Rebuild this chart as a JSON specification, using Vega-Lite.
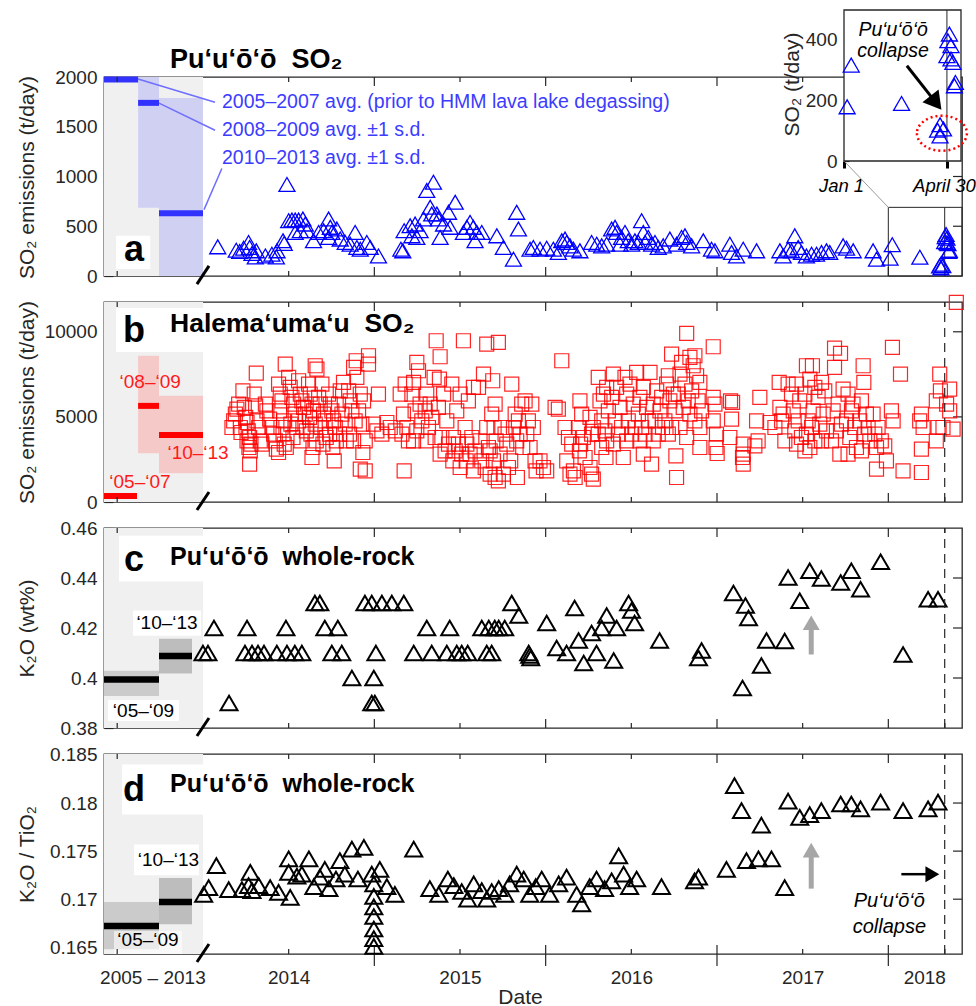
{
  "$schema": "https://vega.github.io/schema/vega-lite/v6.json",
  "padding": {"left": 15, "top": 8, "right": 16, "bottom": 0},
  "background": "white",
  "config": {
    "font": "Liberation Sans",
    "view": {"stroke": "#262626", "strokeWidth": 1.3},
    "text": {"font": "Liberation Sans"},
    "axis": {
      "domain": false, "grid": false, "zindex": 1,
      "labelFlush": false, "labelOverlap": false,
      "labelFont": "Liberation Sans", "labelFontSize": 19, "labelColor": "#262626",
      "tickColor": "#262626", "tickWidth": 1.2,
      "titleFont": "Liberation Sans", "titleFontSize": 21, "titleFontWeight": "normal", "titleColor": "#262626"
    }
  },
  "datasets": {
    "so2a": [
      {"t":2014.086,"v":293},{"t":2014.490,"v":920},{"t":2014.194,"v":260},{"t":2014.214,"v":246},{"t":2014.237,"v":280},{"t":2014.266,"v":337},{"t":2014.272,"v":287},{"t":2014.286,"v":226},{"t":2014.305,"v":192},{"t":2014.311,"v":253},{"t":2014.364,"v":202},{"t":2014.402,"v":219},{"t":2014.428,"v":192},{"t":2014.432,"v":253},{"t":2014.467,"v":354},{"t":2014.474,"v":327},
      {"t":2014.500,"v":556},{"t":2014.519,"v":563},{"t":2014.538,"v":563},{"t":2014.558,"v":563},{"t":2014.583,"v":573},{"t":2014.597,"v":522},{"t":2014.538,"v":438},{"t":2014.568,"v":455},{"t":2014.607,"v":455},{"t":2014.645,"v":354},{"t":2014.675,"v":438},{"t":2014.704,"v":455},{"t":2014.733,"v":573},{"t":2014.743,"v":489},{"t":2014.733,"v":388},{"t":2014.752,"v":438},{"t":2014.781,"v":472},{"t":2014.801,"v":371},{"t":2014.830,"v":337},{"t":2014.859,"v":320},{"t":2014.888,"v":438},{"t":2014.898,"v":287},{"t":2014.918,"v":270},{"t":2014.956,"v":337},{"t":2014.976,"v":287},{"t":2015.024,"v":202},
      {"t":2015.155,"v":270},{"t":2015.166,"v":253},{"t":2015.174,"v":455},{"t":2015.209,"v":505},{"t":2015.219,"v":404},{"t":2015.238,"v":522},{"t":2015.248,"v":388},{"t":2015.267,"v":455},{"t":2015.287,"v":573},{"t":2015.306,"v":859},{"t":2015.345,"v":943},{"t":2015.326,"v":691},{"t":2015.335,"v":623},{"t":2015.365,"v":623},{"t":2015.374,"v":573},{"t":2015.384,"v":388},{"t":2015.404,"v":522},{"t":2015.433,"v":640},{"t":2015.442,"v":489},{"t":2015.472,"v":741},
      {"t":2015.520,"v":438},{"t":2015.540,"v":489},{"t":2015.559,"v":539},{"t":2015.578,"v":489},{"t":2015.588,"v":354},{"t":2015.598,"v":438},{"t":2015.627,"v":438},{"t":2015.715,"v":404},{"t":2015.753,"v":287},{"t":2015.812,"v":169},{"t":2015.831,"v":640},{"t":2015.841,"v":472},
      {"t":2015.909,"v":270},{"t":2015.928,"v":287},{"t":2015.967,"v":270},{"t":2016.006,"v":280},{"t":2016.045,"v":270},{"t":2016.074,"v":236},{"t":2016.094,"v":354},{"t":2016.113,"v":371},{"t":2016.123,"v":337},{"t":2016.142,"v":303},{"t":2016.162,"v":270},
      {"t":2016.200,"v":253},{"t":2016.268,"v":337},{"t":2016.298,"v":320},{"t":2016.327,"v":303},{"t":2016.356,"v":320},{"t":2016.385,"v":472},{"t":2016.405,"v":489},{"t":2016.414,"v":438},{"t":2016.434,"v":320},{"t":2016.443,"v":388},{"t":2016.463,"v":438},{"t":2016.482,"v":354},{"t":2016.502,"v":320},{"t":2016.521,"v":354},{"t":2016.541,"v":337},{"t":2016.560,"v":556},{"t":2016.570,"v":438},{"t":2016.580,"v":337},{"t":2016.599,"v":388},{"t":2016.618,"v":320},{"t":2016.638,"v":337},{"t":2016.657,"v":287},{"t":2016.686,"v":303},{"t":2016.725,"v":371},{"t":2016.764,"v":320},{"t":2016.793,"v":388},{"t":2016.813,"v":404},{"t":2016.823,"v":337},{"t":2016.852,"v":303},{"t":2016.920,"v":354},{"t":2016.968,"v":270},{"t":2016.988,"v":253},
      {"t":2017.075,"v":320},{"t":2017.085,"v":236},{"t":2017.114,"v":202},{"t":2017.153,"v":270},{"t":2017.231,"v":253},{"t":2017.367,"v":253},{"t":2017.386,"v":202},{"t":2017.415,"v":270},{"t":2017.435,"v":253},{"t":2017.454,"v":404},{"t":2017.474,"v":287},{"t":2017.493,"v":236},{"t":2017.522,"v":202},{"t":2017.552,"v":219},{"t":2017.581,"v":219},{"t":2017.610,"v":236},{"t":2017.639,"v":253},{"t":2017.658,"v":236},{"t":2017.736,"v":303},{"t":2017.756,"v":280},{"t":2017.795,"v":253},{"t":2017.911,"v":253},{"t":2017.931,"v":169},
      {"t":2018.010,"v":178},{"t":2018.023,"v":315},{"t":2018.184,"v":189},{"t":2018.299,"v":101},{"t":2018.307,"v":119},{"t":2018.307,"v":82},{"t":2018.318,"v":105},{"t":2018.329,"v":346},{"t":2018.332,"v":395},{"t":2018.337,"v":417},{"t":2018.342,"v":379},{"t":2018.342,"v":335},{"t":2018.348,"v":324},{"t":2018.353,"v":247},{"t":2018.356,"v":258}
    ],
    "so2b": [
      {"t":2014.169,"v":4378},{"t":2014.179,"v":4770},{"t":2014.189,"v":5162},{"t":2014.198,"v":5456},{"t":2014.208,"v":5750},{"t":2014.218,"v":4378},{"t":2014.222,"v":4084},
      {"t":2014.233,"v":6534},{"t":2014.241,"v":5554},{"t":2014.249,"v":4966},{"t":2014.257,"v":4672},{"t":2014.264,"v":4182},{"t":2014.272,"v":3790},{"t":2014.257,"v":3594},{"t":2014.280,"v":3398},{"t":2014.268,"v":3202},{"t":2014.276,"v":3006},{"t":2014.272,"v":2222},
      {"t":2014.311,"v":7573},{"t":2014.299,"v":6338},{"t":2014.307,"v":5652},{"t":2014.315,"v":4770},{"t":2014.325,"v":4378},{"t":2014.334,"v":3594},{"t":2014.344,"v":3398},
      {"t":2014.364,"v":5750},{"t":2014.373,"v":5358},{"t":2014.389,"v":4868},{"t":2014.402,"v":4378},{"t":2014.412,"v":3986},{"t":2014.422,"v":3594},{"t":2014.428,"v":3104},
      {"t":2014.480,"v":8102},{"t":2014.441,"v":6926},{"t":2014.451,"v":6338},{"t":2014.461,"v":5946},{"t":2014.447,"v":5358},{"t":2014.470,"v":4770},{"t":2014.455,"v":4378},{"t":2014.467,"v":3986},{"t":2014.474,"v":3398},{"t":2014.486,"v":3202},{"t":2014.441,"v":2908},
      {"t":2014.500,"v":7318},{"t":2014.509,"v":6730},{"t":2014.519,"v":6142},{"t":2014.529,"v":5750},{"t":2014.538,"v":5162},{"t":2014.513,"v":4574},{"t":2014.544,"v":4378},{"t":2014.525,"v":3790},
      {"t":2014.558,"v":7122},{"t":2014.568,"v":6338},{"t":2014.577,"v":5946},{"t":2014.587,"v":5554},{"t":2014.597,"v":5162},{"t":2014.558,"v":4770},{"t":2014.583,"v":4378},{"t":2014.603,"v":4182},{"t":2014.572,"v":3594},
      {"t":2014.655,"v":8004},{"t":2014.665,"v":7808},{"t":2014.616,"v":6926},{"t":2014.626,"v":6338},{"t":2014.636,"v":5750},{"t":2014.645,"v":5358},{"t":2014.622,"v":4966},{"t":2014.655,"v":4574},{"t":2014.630,"v":3986},{"t":2014.661,"v":3594},{"t":2014.642,"v":3202},{"t":2014.636,"v":2614},
      {"t":2014.694,"v":6926},{"t":2014.675,"v":6142},{"t":2014.684,"v":5750},{"t":2014.704,"v":5162},{"t":2014.713,"v":4770},{"t":2014.688,"v":4378},{"t":2014.719,"v":3790},{"t":2014.700,"v":3398},
      {"t":2014.733,"v":6338},{"t":2014.743,"v":5750},{"t":2014.752,"v":5358},{"t":2014.762,"v":4770},{"t":2014.772,"v":4378},{"t":2014.739,"v":3986},{"t":2014.778,"v":3594},{"t":2014.758,"v":3202},{"t":2014.766,"v":2418},
      {"t":2014.820,"v":7024},{"t":2014.801,"v":6534},{"t":2014.791,"v":5750},{"t":2014.811,"v":5162},{"t":2014.830,"v":4574},{"t":2014.797,"v":3986},{"t":2014.836,"v":3594},
      {"t":2014.894,"v":8298},{"t":2014.879,"v":7906},{"t":2014.898,"v":7318},{"t":2014.850,"v":6534},{"t":2014.859,"v":5946},{"t":2014.869,"v":5358},{"t":2014.888,"v":4770},{"t":2014.855,"v":3986},{"t":2014.879,"v":3594},
      {"t":2014.966,"v":8592},{"t":2014.966,"v":8102},{"t":2014.918,"v":6338},{"t":2014.937,"v":5946},{"t":2014.908,"v":5358},{"t":2014.927,"v":4574},{"t":2014.947,"v":3594},{"t":2014.933,"v":2908},{"t":2014.918,"v":1928},{"t":2014.947,"v":1830},
      {"t":2015.024,"v":6338},{"t":2014.995,"v":4574},{"t":2015.015,"v":4182},{"t":2015.044,"v":3986},{"t":2015.073,"v":4672},{"t":2015.093,"v":4378},{"t":2015.122,"v":4182},
      {"t":2015.180,"v":6926},{"t":2015.151,"v":6338},{"t":2015.170,"v":5162},{"t":2015.190,"v":4378},{"t":2015.161,"v":3986},{"t":2015.199,"v":3594},{"t":2015.174,"v":1830},
      {"t":2015.248,"v":8200},{"t":2015.258,"v":7710},{"t":2015.229,"v":7024},{"t":2015.219,"v":6338},{"t":2015.267,"v":5750},{"t":2015.238,"v":5358},{"t":2015.277,"v":4770},{"t":2015.248,"v":4182},{"t":2015.229,"v":3594},
      {"t":2015.361,"v":9474},{"t":2015.384,"v":8533},{"t":2015.349,"v":7318},{"t":2015.306,"v":6338},{"t":2015.326,"v":5750},{"t":2015.297,"v":5358},{"t":2015.335,"v":4966},{"t":2015.316,"v":4378},{"t":2015.355,"v":3790},{"t":2015.302,"v":3594},
      {"t":2015.380,"v":7220},{"t":2015.404,"v":6338},{"t":2015.374,"v":5554},{"t":2015.423,"v":4770},{"t":2015.394,"v":3790},{"t":2015.433,"v":3398},{"t":2015.413,"v":3006},{"t":2015.384,"v":2810},
      {"t":2015.452,"v":6926},{"t":2015.501,"v":6338},{"t":2015.481,"v":5358},{"t":2015.462,"v":3790},{"t":2015.491,"v":3398},{"t":2015.472,"v":3006},{"t":2015.510,"v":2810},{"t":2015.458,"v":2418},{"t":2015.501,"v":2026},
      {"t":2015.520,"v":9474},{"t":2015.578,"v":6730},{"t":2015.549,"v":5946},{"t":2015.530,"v":4378},{"t":2015.569,"v":3790},{"t":2015.540,"v":3398},{"t":2015.588,"v":3006},{"t":2015.559,"v":2810},{"t":2015.536,"v":2418},{"t":2015.578,"v":1830},
      {"t":2015.637,"v":7514},{"t":2015.608,"v":6730},{"t":2015.656,"v":4378},{"t":2015.617,"v":3594},{"t":2015.666,"v":3202},{"t":2015.627,"v":2418},{"t":2015.647,"v":2026},{"t":2015.676,"v":1634},
      {"t":2015.656,"v":9278},{"t":2015.691,"v":7122},{"t":2015.705,"v":5750},{"t":2015.685,"v":5162},{"t":2015.699,"v":4378},{"t":2015.711,"v":3594},{"t":2015.676,"v":3006},{"t":2015.695,"v":2418},{"t":2015.705,"v":1438},{"t":2015.724,"v":1242},
      {"t":2015.724,"v":9376},{"t":2015.744,"v":4378},{"t":2015.763,"v":3986},{"t":2015.773,"v":3398},{"t":2015.734,"v":2810},{"t":2015.783,"v":2026},{"t":2015.753,"v":1634},
      {"t":2015.802,"v":6926},{"t":2015.860,"v":5750},{"t":2015.822,"v":5162},{"t":2015.841,"v":4770},{"t":2015.812,"v":4378},{"t":2015.851,"v":3986},{"t":2015.831,"v":3594},{"t":2015.866,"v":3202},{"t":2015.796,"v":2418},{"t":2015.835,"v":1438},
      {"t":2015.880,"v":5946},{"t":2015.919,"v":5750},{"t":2015.899,"v":4770},{"t":2015.928,"v":4378},{"t":2015.890,"v":3986},{"t":2015.909,"v":3202},{"t":2015.938,"v":2418},{"t":2015.944,"v":1830},
      {"t":2015.967,"v":2418},{"t":2015.987,"v":2026},{"t":2016.006,"v":1830},{"t":2016.094,"v":8298},{"t":2016.055,"v":5554},{"t":2016.074,"v":5456},
      {"t":2016.113,"v":4378},{"t":2016.133,"v":3790},{"t":2016.152,"v":3398},{"t":2016.123,"v":2418},{"t":2016.162,"v":1830},{"t":2016.142,"v":1634},{"t":2016.172,"v":1438},
      {"t":2016.200,"v":5946},{"t":2016.210,"v":5162},{"t":2016.191,"v":4378},{"t":2016.220,"v":3790},{"t":2016.204,"v":3398},{"t":2016.197,"v":3006},{"t":2016.230,"v":2614},
      {"t":2016.259,"v":4966},{"t":2016.278,"v":4378},{"t":2016.268,"v":3986},{"t":2016.259,"v":2026},{"t":2016.268,"v":1634},{"t":2016.278,"v":1340},
      {"t":2016.307,"v":7318},{"t":2016.356,"v":6730},{"t":2016.337,"v":6338},{"t":2016.317,"v":5946},{"t":2016.366,"v":5358},{"t":2016.327,"v":4770},{"t":2016.346,"v":4182},{"t":2016.307,"v":3986},{"t":2016.356,"v":3594},{"t":2016.327,"v":3202},{"t":2016.352,"v":2614},
      {"t":2016.395,"v":7514},{"t":2016.463,"v":7318},{"t":2016.414,"v":6730},{"t":2016.385,"v":6142},{"t":2016.434,"v":5554},{"t":2016.405,"v":4770},{"t":2016.443,"v":4378},{"t":2016.424,"v":3986},{"t":2016.395,"v":3398},{"t":2016.453,"v":2614},
      {"t":2016.531,"v":7612},{"t":2016.492,"v":6926},{"t":2016.473,"v":6338},{"t":2016.511,"v":5750},{"t":2016.482,"v":4770},{"t":2016.521,"v":4378},{"t":2016.502,"v":3986},{"t":2016.473,"v":3594},
      {"t":2016.609,"v":7612},{"t":2016.570,"v":6730},{"t":2016.550,"v":6142},{"t":2016.589,"v":5554},{"t":2016.541,"v":5162},{"t":2016.599,"v":4770},{"t":2016.560,"v":4378},{"t":2016.580,"v":3986},{"t":2016.550,"v":3594},{"t":2016.570,"v":2810},{"t":2016.618,"v":2222},
      {"t":2016.648,"v":6534},{"t":2016.677,"v":6142},{"t":2016.628,"v":5750},{"t":2016.667,"v":5358},{"t":2016.638,"v":4770},{"t":2016.682,"v":4378},{"t":2016.657,"v":3986},{"t":2016.628,"v":3594},
      {"t":2016.735,"v":8690},{"t":2016.716,"v":7416},{"t":2016.706,"v":6926},{"t":2016.745,"v":6338},{"t":2016.725,"v":5946},{"t":2016.755,"v":5358},{"t":2016.696,"v":4770},{"t":2016.735,"v":4378},{"t":2016.716,"v":3986},{"t":2016.760,"v":2712},{"t":2016.764,"v":1438},
      {"t":2016.823,"v":9905},{"t":2016.793,"v":8200},{"t":2016.842,"v":8494},{"t":2016.784,"v":7514},{"t":2016.813,"v":6926},{"t":2016.774,"v":6338},{"t":2016.832,"v":5946},{"t":2016.803,"v":5554},{"t":2016.842,"v":5162},{"t":2016.784,"v":4378},{"t":2016.823,"v":3790},
      {"t":2016.871,"v":8592},{"t":2016.861,"v":8004},{"t":2016.881,"v":7416},{"t":2016.900,"v":7024},{"t":2016.852,"v":6534},{"t":2016.890,"v":5946},{"t":2016.910,"v":5358},{"t":2016.871,"v":4770},{"t":2016.900,"v":4378},{"t":2016.900,"v":3202},
      {"t":2016.978,"v":9121},{"t":2016.978,"v":6142},{"t":2016.988,"v":5750},{"t":2016.978,"v":4770},{"t":2016.997,"v":3986},{"t":2016.994,"v":3202},{"t":2017.001,"v":2849},
      {"t":2017.079,"v":5946},{"t":2017.091,"v":5848},{"t":2017.085,"v":4868},{"t":2017.075,"v":3790},{"t":2017.153,"v":3398},{"t":2017.153,"v":2810},{"t":2017.149,"v":2614},{"t":2017.153,"v":2222},
      {"t":2017.250,"v":6142},{"t":2017.231,"v":4770},{"t":2017.240,"v":3594},{"t":2017.221,"v":3300},{"t":2017.309,"v":4672},{"t":2017.338,"v":4378},{"t":2017.363,"v":7024},
      {"t":2017.415,"v":6926},{"t":2017.367,"v":5554},{"t":2017.386,"v":5162},{"t":2017.377,"v":4770},{"t":2017.396,"v":3594},
      {"t":2017.464,"v":6926},{"t":2017.435,"v":6338},{"t":2017.483,"v":5946},{"t":2017.445,"v":5358},{"t":2017.474,"v":4770},{"t":2017.454,"v":4182},{"t":2017.493,"v":3790},{"t":2017.464,"v":3398},
      {"t":2017.522,"v":8004},{"t":2017.557,"v":8004},{"t":2017.542,"v":7220},{"t":2017.571,"v":6730},{"t":2017.513,"v":6338},{"t":2017.561,"v":5358},{"t":2017.532,"v":4770},{"t":2017.552,"v":4378},{"t":2017.522,"v":3986},{"t":2017.571,"v":3594},{"t":2017.542,"v":3202},{"t":2017.513,"v":3006},
      {"t":2017.610,"v":7024},{"t":2017.629,"v":6534},{"t":2017.590,"v":6142},{"t":2017.620,"v":5162},{"t":2017.600,"v":4574},{"t":2017.639,"v":4182},{"t":2017.610,"v":3594},
      {"t":2017.686,"v":9043},{"t":2017.721,"v":8729},{"t":2017.686,"v":7906},{"t":2017.736,"v":6632},{"t":2017.707,"v":5750},{"t":2017.678,"v":5358},{"t":2017.726,"v":4574},{"t":2017.697,"v":4182},{"t":2017.668,"v":3594},{"t":2017.717,"v":2810},
      {"t":2017.765,"v":6338},{"t":2017.794,"v":5750},{"t":2017.785,"v":5358},{"t":2017.756,"v":4770},{"t":2017.804,"v":4378},{"t":2017.775,"v":3790},{"t":2017.814,"v":3202},{"t":2017.765,"v":2810},
      {"t":2017.853,"v":8004},{"t":2017.857,"v":7024},{"t":2017.843,"v":5946},{"t":2017.872,"v":5162},{"t":2017.833,"v":4770},{"t":2017.882,"v":4378},{"t":2017.862,"v":3986},{"t":2017.892,"v":3594},{"t":2017.843,"v":3006},
      {"t":2017.911,"v":5162},{"t":2017.940,"v":4378},{"t":2017.921,"v":3986},{"t":2017.959,"v":3594},{"t":2017.931,"v":3202},{"t":2017.931,"v":1928},
      {"t":2018.024,"v":9082},{"t":2018.018,"v":5358},{"t":2018.028,"v":4770},{"t":2017.979,"v":3300},{"t":2017.989,"v":2418},{"t":2018.071,"v":7514},{"t":2018.086,"v":1830},
      {"t":2018.193,"v":5162},{"t":2018.183,"v":4770},{"t":2018.203,"v":4378},{"t":2018.193,"v":3104},{"t":2018.193,"v":1732},
      {"t":2018.300,"v":7514},{"t":2018.304,"v":6534},{"t":2018.280,"v":5946},{"t":2018.290,"v":4378},{"t":2018.280,"v":3594},
      {"t":2018.358,"v":6632},{"t":2018.340,"v":5750},{"t":2018.358,"v":5358},{"t":2018.319,"v":4378},{"t":2018.378,"v":4280},{"t":2018.397,"v":11728}
    ],
    "k2o": [
      {"t":2013.994,"v":0.41},{"t":2014.029,"v":0.41},{"t":2014.064,"v":0.42},{"t":2014.152,"v":0.39},{"t":2014.257,"v":0.42},{"t":2014.245,"v":0.41},{"t":2014.286,"v":0.41},{"t":2014.321,"v":0.41},{"t":2014.356,"v":0.41},{"t":2014.431,"v":0.41},{"t":2014.484,"v":0.42},{"t":2014.490,"v":0.41},{"t":2014.536,"v":0.41},{"t":2014.577,"v":0.41},
      {"t":2014.653,"v":0.43},{"t":2014.682,"v":0.43},{"t":2014.711,"v":0.42},{"t":2014.787,"v":0.42},{"t":2014.752,"v":0.41},{"t":2014.810,"v":0.41},{"t":2014.869,"v":0.40},{"t":2014.945,"v":0.43},{"t":2014.985,"v":0.43},{"t":2015.044,"v":0.43},{"t":2015.102,"v":0.43},{"t":2015.172,"v":0.43},{"t":2014.985,"v":0.39},{"t":2015.003,"v":0.39},{"t":2014.997,"v":0.40},{"t":2015.009,"v":0.41},
      {"t":2015.230,"v":0.41},{"t":2015.306,"v":0.42},{"t":2015.335,"v":0.41},{"t":2015.423,"v":0.41},{"t":2015.440,"v":0.42},{"t":2015.481,"v":0.41},{"t":2015.510,"v":0.41},{"t":2015.545,"v":0.41},{"t":2015.627,"v":0.42},{"t":2015.668,"v":0.42},{"t":2015.703,"v":0.42},{"t":2015.726,"v":0.42},{"t":2015.761,"v":0.42},{"t":2015.656,"v":0.41},{"t":2015.685,"v":0.41},{"t":2015.802,"v":0.43},
      {"t":2015.843,"v":0.425},{"t":2015.901,"v":0.41},{"t":2015.907,"v":0.409},{"t":2015.913,"v":0.408},{"t":2016.006,"v":0.422},{"t":2016.064,"v":0.412},{"t":2016.122,"v":0.41},{"t":2016.169,"v":0.428},{"t":2016.192,"v":0.415},{"t":2016.222,"v":0.406},{"t":2016.268,"v":0.418},{"t":2016.297,"v":0.41},{"t":2016.327,"v":0.42},{"t":2016.356,"v":0.425},{"t":2016.397,"v":0.407},{"t":2016.414,"v":0.42},{"t":2016.484,"v":0.43},{"t":2016.501,"v":0.427},{"t":2016.519,"v":0.422},{"t":2016.665,"v":0.415},
      {"t":2016.892,"v":0.408},{"t":2016.910,"v":0.411},{"t":2017.096,"v":0.434},{"t":2017.149,"v":0.396},{"t":2017.166,"v":0.429},{"t":2017.184,"v":0.424},{"t":2017.259,"v":0.405},{"t":2017.289,"v":0.415},{"t":2017.395,"v":0.4148},
      {"t":2017.415,"v":0.4402},{"t":2017.483,"v":0.4309},{"t":2017.541,"v":0.4429},{"t":2017.609,"v":0.4398},{"t":2017.722,"v":0.4382},{"t":2017.784,"v":0.4429},{"t":2017.838,"v":0.4355},{"t":2017.955,"v":0.4465},{"t":2018.086,"v":0.4094},{"t":2018.232,"v":0.4315},{"t":2018.290,"v":0.4315}
    ],
    "ratio": [
      {"t":2014.004,"v":0.1705},{"t":2014.033,"v":0.1712},{"t":2014.078,"v":0.1735},{"t":2014.150,"v":0.1710},{"t":2014.227,"v":0.1710},{"t":2014.276,"v":0.1728},{"t":2014.266,"v":0.1714},{"t":2014.286,"v":0.1709},{"t":2014.325,"v":0.1714},{"t":2014.392,"v":0.1712},{"t":2014.441,"v":0.1707},{"t":2014.509,"v":0.1702},{"t":2014.500,"v":0.1742},{"t":2014.500,"v":0.1728},{"t":2014.548,"v":0.1724},
      {"t":2014.577,"v":0.1726},{"t":2014.618,"v":0.1742},{"t":2014.647,"v":0.1713},{"t":2014.682,"v":0.1723},{"t":2014.711,"v":0.1731},{"t":2014.735,"v":0.1711},{"t":2014.776,"v":0.1721},{"t":2014.799,"v":0.1740},{"t":2014.828,"v":0.1726},{"t":2014.869,"v":0.1752},{"t":2014.904,"v":0.1721},{"t":2014.939,"v":0.1754},{"t":2014.985,"v":0.1726},
      {"t":2014.997,"v":0.1716},{"t":2014.997,"v":0.1703},{"t":2014.997,"v":0.1692},{"t":2014.997,"v":0.1682},{"t":2014.997,"v":0.1669},{"t":2014.997,"v":0.1659},{"t":2014.997,"v":0.1651},
      {"t":2015.032,"v":0.1731},{"t":2015.073,"v":0.1713},{"t":2015.120,"v":0.1705},{"t":2015.230,"v":0.1752},{"t":2015.324,"v":0.1711},{"t":2015.376,"v":0.1705},{"t":2015.429,"v":0.1721},{"t":2015.464,"v":0.1714},{"t":2015.510,"v":0.1708},{"t":2015.545,"v":0.1700},{"t":2015.580,"v":0.1716},{"t":2015.627,"v":0.1709},{"t":2015.656,"v":0.1700},{"t":2015.685,"v":0.1708},{"t":2015.726,"v":0.1711},{"t":2015.761,"v":0.1705},{"t":2015.790,"v":0.1716},{"t":2015.831,"v":0.1726},{"t":2015.872,"v":0.1721},{"t":2015.907,"v":0.1705},{"t":2015.942,"v":0.1713},{"t":2015.977,"v":0.1721},
      {"t":2016.023,"v":0.1705},{"t":2016.076,"v":0.1716},{"t":2016.122,"v":0.1723},{"t":2016.181,"v":0.1705},{"t":2016.210,"v":0.1695},{"t":2016.257,"v":0.1713},{"t":2016.297,"v":0.1721},{"t":2016.344,"v":0.1711},{"t":2016.385,"v":0.1719},{"t":2016.426,"v":0.1745},{"t":2016.455,"v":0.1726},{"t":2016.490,"v":0.1713},{"t":2016.531,"v":0.1721},{"t":2016.676,"v":0.1713},{"t":2016.869,"v":0.1719},{"t":2016.892,"v":0.1723},
      {"t":2017.055,"v":0.1731},{"t":2017.102,"v":0.1818},{"t":2017.143,"v":0.1792},{"t":2017.172,"v":0.1740},{"t":2017.242,"v":0.1742},{"t":2017.259,"v":0.1777},{"t":2017.318,"v":0.1742},
      {"t":2017.395,"v":0.1712},{"t":2017.415,"v":0.1802},{"t":2017.483,"v":0.1785},{"t":2017.541,"v":0.1788},{"t":2017.609,"v":0.1792},{"t":2017.722,"v":0.1799},{"t":2017.784,"v":0.1799},{"t":2017.838,"v":0.1794},{"t":2017.955,"v":0.1801},{"t":2018.086,"v":0.1792},{"t":2018.232,"v":0.1794},{"t":2018.290,"v":0.1801}
    ]
  },
  "bounds": "flush",
  "spacing": 26,
  "vconcat": [
    {
      "width": 858,
      "height": 199,
      "layer": [
        {
          "data": {"values": [{"x0": 2005, "x1": 2014, "y0": 0, "y1": 2000}]},
          "mark": {"type": "rect", "color": "#f0f0f0"},
          "encoding": {
            "x": {"field": "x0", "type": "quantitative", "scale": {"domain": [2005, 2014, 2018.43], "range": [0, 99, 858], "nice": false, "zero": false}, "axis": null},
            "x2": {"field": "x1"},
            "y": {"field": "y0", "type": "quantitative", "scale": {"domain": [0, 2000], "nice": false, "zero": false},
                  "axis": {"orient": "left", "values": [0, 500, 1000, 1500, 2000], "format": "d", "tickSize": -9, "labelPadding": 16, "title": "SO₂ emissions (t/day)", "titleX": -77, "titleY": 100, "titleAngle": -90, "titleBaseline": "middle", "titleAlign": "center"}},
            "y2": {"field": "y1"}
          }
        },
        {
          "data": {"values": [{"x0": 2008.1, "x1": 2010, "y0": 686, "y1": 2000}, {"x0": 2010, "x1": 2014, "y0": 0, "y1": 1790}]},
          "mark": {"type": "rect", "color": "#d0d0f3"},
          "encoding": {"x": {"field": "x0", "type": "quantitative", "scale": {"domain": [2005, 2014, 2018.43], "range": [0, 99, 858], "nice": false, "zero": false}, "axis": null}, "x2": {"field": "x1"}, "y": {"field": "y0", "type": "quantitative", "scale": {"domain": [0, 2000], "nice": false, "zero": false}, "axis": null}, "y2": {"field": "y1"}}
        },
        {
          "data": {"values": [{"x0": 2006.1, "x1": 2009.2, "y0": 70, "y1": 404}]},
          "mark": {"type": "rect", "color": "white"},
          "encoding": {"x": {"field": "x0", "type": "quantitative", "scale": {"domain": [2005, 2014, 2018.43], "range": [0, 99, 858], "nice": false, "zero": false}, "axis": null}, "x2": {"field": "x1"}, "y": {"field": "y0", "type": "quantitative", "scale": {"domain": [0, 2000], "nice": false, "zero": false}, "axis": null}, "y2": {"field": "y1"}}
        },
        {
          "data": {"values": [{"x0": 2005, "x1": 2008.1, "v": 1975}, {"x0": 2008.1, "x1": 2010, "v": 1740}, {"x0": 2010, "x1": 2014, "v": 630}]},
          "mark": {"type": "rule", "color": "#3232ff", "strokeWidth": 6},
          "encoding": {"x": {"field": "x0", "type": "quantitative", "scale": {"domain": [2005, 2014, 2018.43], "range": [0, 99, 858], "nice": false, "zero": false}, "axis": null}, "x2": {"field": "x1"}, "y": {"field": "v", "type": "quantitative", "scale": {"domain": [0, 2000], "nice": false, "zero": false}, "axis": null}}
        },
        {
          "data": {"values": [{"x0": 2008.09, "x1": 2014.07, "y0": 1980, "y1": 1747}, {"x0": 2010, "x1": 2014.07, "y0": 1737, "y1": 1465}, {"x0": 2014.006, "x1": 2014.11, "y0": 667, "y1": 1081}]},
          "mark": {"type": "rule", "color": "#6e6eff", "strokeWidth": 1.5},
          "encoding": {"x": {"field": "x0", "type": "quantitative", "scale": {"domain": [2005, 2014, 2018.43], "range": [0, 99, 858], "nice": false, "zero": false}, "axis": null}, "x2": {"field": "x1"}, "y": {"field": "y0", "type": "quantitative", "scale": {"domain": [0, 2000], "nice": false, "zero": false}, "axis": null}, "y2": {"field": "y1"}}
        },
        {
          "data": {"values": [
            {"t": 2014.111, "v": 1687, "s": "2005–2007 avg. (prior to HMM lava lake degassing)"},
            {"t": 2014.111, "v": 1404, "s": "2008–2009 avg. ±1 s.d."},
            {"t": 2014.111, "v": 1121, "s": "2010–2013 avg. ±1 s.d."}
          ]},
          "mark": {"type": "text", "align": "left", "baseline": "alphabetic", "fontSize": 19.5, "color": "#3c3cff"},
          "encoding": {"x": {"field": "t", "type": "quantitative", "scale": {"domain": [2005, 2014, 2018.43], "range": [0, 99, 858], "nice": false, "zero": false}, "axis": null}, "y": {"field": "v", "type": "quantitative", "scale": {"domain": [0, 2000], "nice": false, "zero": false}, "axis": null}, "text": {"field": "s"}}
        },
        {
          "data": {"values": [{"t": 2007.73, "v": 152, "s": "a"}]},
          "mark": {"type": "text", "align": "center", "baseline": "alphabetic", "fontSize": 36, "fontWeight": "bold", "color": "black"},
          "encoding": {"x": {"field": "t", "type": "quantitative", "scale": {"domain": [2005, 2014, 2018.43], "range": [0, 99, 858], "nice": false, "zero": false}, "axis": null}, "y": {"field": "v", "type": "quantitative", "scale": {"domain": [0, 2000], "nice": false, "zero": false}, "axis": null}, "text": {"field": "s"}}
        },
        {
          "data": {"values": [{"t": 2011.0, "v": 2091, "s": "Pu‘u‘ō‘ō\u00a0\u00a0SO₂"}]},
          "mark": {"type": "text", "align": "left", "baseline": "alphabetic", "fontSize": 27, "fontWeight": "bold", "color": "black"},
          "encoding": {"x": {"field": "t", "type": "quantitative", "scale": {"domain": [2005, 2014, 2018.43], "range": [0, 99, 858], "nice": false, "zero": false}, "axis": null}, "y": {"field": "v", "type": "quantitative", "scale": {"domain": [0, 2000], "nice": false, "zero": false}, "axis": null}, "text": {"field": "s"}}
        },
        {
          "data": {"values": [
            {"t": 2006.2, "y0": 0, "y1": 50}, {"t": 2014.5, "y0": 0, "y1": 50}, {"t": 2015.5, "y0": 0, "y1": 50}, {"t": 2016.5, "y0": 0, "y1": 50}, {"t": 2017.5, "y0": 0, "y1": 50}, {"t": 2018.33, "y0": 0, "y1": 50},
            {"t": 2015, "y0": 0, "y1": 90}, {"t": 2016, "y0": 0, "y1": 90}, {"t": 2017, "y0": 0, "y1": 90}, {"t": 2018, "y0": 0, "y1": 90},
            {"t": 2006.2, "y0": 1950, "y1": 2000}, {"t": 2014.5, "y0": 1950, "y1": 2000}, {"t": 2015.5, "y0": 1950, "y1": 2000}, {"t": 2016.5, "y0": 1950, "y1": 2000}, {"t": 2017.5, "y0": 1950, "y1": 2000},
            {"t": 2015, "y0": 1910, "y1": 2000}, {"t": 2016, "y0": 1910, "y1": 2000}, {"t": 2017, "y0": 1910, "y1": 2000}
          ]},
          "mark": {"type": "rule", "color": "#262626", "strokeWidth": 1.2},
          "encoding": {"x": {"field": "t", "type": "quantitative", "scale": {"domain": [2005, 2014, 2018.43], "range": [0, 99, 858], "nice": false, "zero": false}, "axis": null}, "y": {"field": "y0", "type": "quantitative", "scale": {"domain": [0, 2000], "nice": false, "zero": false}, "axis": null}, "y2": {"field": "y1"}}
        },
        {
          "data": {"values": [{"x0": 2018.3775, "x1": 2018.43, "v": 500}, {"x0": 2018.3775, "x1": 2018.43, "v": 1000}]},
          "mark": {"type": "rule", "color": "#262626", "strokeWidth": 1.2},
          "encoding": {"x": {"field": "x0", "type": "quantitative", "scale": {"domain": [2005, 2014, 2018.43], "range": [0, 99, 858], "nice": false, "zero": false}, "axis": null}, "x2": {"field": "x1"}, "y": {"field": "v", "type": "quantitative", "scale": {"domain": [0, 2000], "nice": false, "zero": false}, "axis": null}}
        },
        {
          "data": {"values": [{"x0": 2018.0, "x1": 2018.43, "y0": 0, "y1": 690}]},
          "mark": {"type": "rect", "fillOpacity": 0, "stroke": "#262626", "strokeWidth": 1},
          "encoding": {"x": {"field": "x0", "type": "quantitative", "scale": {"domain": [2005, 2014, 2018.43], "range": [0, 99, 858], "nice": false, "zero": false}, "axis": null}, "x2": {"field": "x1"}, "y": {"field": "y0", "type": "quantitative", "scale": {"domain": [0, 2000], "nice": false, "zero": false}, "axis": null}, "y2": {"field": "y1"}}
        },
        {
          "data": {"values": [{"x0": 2017.738, "x1": 2018.0, "y0": 1162, "y1": 690}]},
          "mark": {"type": "rule", "color": "#9a9a9a", "strokeWidth": 1},
          "encoding": {"x": {"field": "x0", "type": "quantitative", "scale": {"domain": [2005, 2014, 2018.43], "range": [0, 99, 858], "nice": false, "zero": false}, "axis": null}, "x2": {"field": "x1"}, "y": {"field": "y0", "type": "quantitative", "scale": {"domain": [0, 2000], "nice": false, "zero": false}, "axis": null}, "y2": {"field": "y1"}}
        },
        {
          "data": {"values": [{"t": 2018.329, "y0": 0, "y1": 690}]},
          "mark": {"type": "rule", "color": "#262626", "strokeWidth": 1},
          "encoding": {"x": {"field": "t", "type": "quantitative", "scale": {"domain": [2005, 2014, 2018.43], "range": [0, 99, 858], "nice": false, "zero": false}, "axis": null}, "y": {"field": "y0", "type": "quantitative", "scale": {"domain": [0, 2000], "nice": false, "zero": false}, "axis": null}, "y2": {"field": "y1"}}
        },
        {
          "data": {"name": "so2a"},
          "mark": {"type": "point", "shape": "triangle-up", "size": 256, "filled": false, "color": "#0000ff", "strokeWidth": 1.3, "opacity": 1},
          "encoding": {"x": {"field": "t", "type": "quantitative", "scale": {"domain": [2005, 2014, 2018.43], "range": [0, 99, 858], "nice": false, "zero": false}, "axis": null}, "y": {"field": "v", "type": "quantitative", "scale": {"domain": [0, 2000], "nice": false, "zero": false}, "axis": null}}
        },
        {
          "data": {"values": [{"x0": 2013.45, "x1": 2014.035, "y0": -81, "y1": 101}]},
          "mark": {"type": "rule", "color": "black", "strokeWidth": 3},
          "encoding": {"x": {"field": "x0", "type": "quantitative", "scale": {"domain": [2005, 2014, 2018.43], "range": [0, 99, 858], "nice": false, "zero": false}, "axis": null}, "x2": {"field": "x1"}, "y": {"field": "y0", "type": "quantitative", "scale": {"domain": [0, 2000], "nice": false, "zero": false}, "axis": null}, "y2": {"field": "y1"}}
        },
        {
          "data": {"values": [{"x0": 2018, "x1": 2018.374, "y0": 0, "y1": 496}]},
          "mark": {"type": "rect", "fill": "white", "stroke": "#262626", "strokeWidth": 1.3},
          "encoding": {
            "x": {"field": "x0", "type": "quantitative", "scale": {"domain": [2018, 2018.374], "range": [740, 857], "nice": false, "zero": false},
                  "axis": {"orient": "bottom", "offset": -115, "values": [2018, 2018.329], "labelExpr": "datum.value < 2018.1 ? 'Jan 1' : 'April 30'", "labelFontStyle": "italic", "labelFontSize": 18.5, "labelOffset": -3, "labelColor": "black", "tickSize": 7, "tickWidth": 3, "tickColor": "black", "labelPadding": 8, "title": null}},
            "x2": {"field": "x1"},
            "y": {"field": "y0", "type": "quantitative", "scale": {"domain": [0, 496], "range": [84, -67], "nice": false, "zero": false},
                  "axis": {"orient": "left", "offset": -740, "values": [0, 200, 400], "format": "d", "tickSize": -5, "labelPadding": 12, "title": "SO₂ (t/day)", "titleX": -52, "titleY": 7, "titleAngle": -90, "titleBaseline": "middle", "titleAlign": "center"}},
            "y2": {"field": "y1"}
          }
        },
        {
          "data": {"values": [{"t": 2018.329, "y0": 0, "y1": 496}]},
          "mark": {"type": "rule", "color": "#262626", "strokeWidth": 1},
          "encoding": {"x": {"field": "t", "type": "quantitative", "scale": {"domain": [2018, 2018.374], "range": [740, 857], "nice": false, "zero": false}, "axis": null}, "y": {"field": "y0", "type": "quantitative", "scale": {"domain": [0, 496], "range": [84, -67], "nice": false, "zero": false}, "axis": null}, "y2": {"field": "y1"}}
        },
        {
          "data": {"name": "so2a"},
          "transform": [{"filter": "datum.t >= 2018"}],
          "mark": {"type": "point", "shape": "triangle-up", "size": 256, "filled": false, "color": "#0000ff", "strokeWidth": 1.3, "opacity": 1},
          "encoding": {"x": {"field": "t", "type": "quantitative", "scale": {"domain": [2018, 2018.374], "range": [740, 857], "nice": false, "zero": false}, "axis": null}, "y": {"field": "v", "type": "quantitative", "scale": {"domain": [0, 496], "range": [84, -67], "nice": false, "zero": false}, "axis": null}}
        },
        {
          "data": {"values": [{"t": 2018.313, "v": 91}]},
          "mark": {"type": "point", "shape": "M -1 0 A 1 0.7 0 1 0 1 0 A 1 0.7 0 1 0 -1 0 Z", "size": 2500, "filled": false, "color": "#ff0000", "strokeWidth": 2.5, "strokeDash": [2, 3], "opacity": 1},
          "encoding": {"x": {"field": "t", "type": "quantitative", "scale": {"domain": [2018, 2018.374], "range": [740, 857], "nice": false, "zero": false}, "axis": null}, "y": {"field": "v", "type": "quantitative", "scale": {"domain": [0, 496], "range": [84, -67], "nice": false, "zero": false}, "axis": null}}
        },
        {
          "data": {"values": [{"x0": 2018.201, "x1": 2018.28, "y0": 313, "y1": 210}]},
          "mark": {"type": "rule", "color": "black", "strokeWidth": 3},
          "encoding": {"x": {"field": "x0", "type": "quantitative", "scale": {"domain": [2018, 2018.374], "range": [740, 857], "nice": false, "zero": false}, "axis": null}, "x2": {"field": "x1"}, "y": {"field": "y0", "type": "quantitative", "scale": {"domain": [0, 496], "range": [84, -67], "nice": false, "zero": false}, "axis": null}, "y2": {"field": "y1"}}
        },
        {
          "data": {"values": [{"t": 2018.294, "v": 191}]},
          "mark": {"type": "point", "shape": "triangle-up", "size": 420, "filled": true, "color": "black", "angle": 142, "opacity": 1},
          "encoding": {"x": {"field": "t", "type": "quantitative", "scale": {"domain": [2018, 2018.374], "range": [740, 857], "nice": false, "zero": false}, "axis": null}, "y": {"field": "v", "type": "quantitative", "scale": {"domain": [0, 496], "range": [84, -67], "nice": false, "zero": false}, "axis": null}}
        },
        {
          "data": {"values": [{"t": 2018.157, "v": 430, "s": "Pu‘u‘ō‘ō"}, {"t": 2018.157, "v": 360, "s": "collapse"}]},
          "mark": {"type": "text", "align": "center", "baseline": "middle", "fontSize": 19.5, "fontStyle": "italic", "color": "black"},
          "encoding": {"x": {"field": "t", "type": "quantitative", "scale": {"domain": [2018, 2018.374], "range": [740, 857], "nice": false, "zero": false}, "axis": null}, "y": {"field": "v", "type": "quantitative", "scale": {"domain": [0, 496], "range": [84, -67], "nice": false, "zero": false}, "axis": null}, "text": {"field": "s"}}
        }
      ],
      "resolve": {"scale": {"x": "independent", "y": "independent"}}
    },
    {
      "width": 858,
      "height": 200,
      "layer": [
        {
          "data": {"values": [{"x0": 2005, "x1": 2014, "y0": 0, "y1": 11750}]},
          "mark": {"type": "rect", "color": "#f0f0f0"},
          "encoding": {
            "x": {"field": "x0", "type": "quantitative", "scale": {"domain": [2005, 2014, 2018.43], "range": [0, 99, 858], "nice": false, "zero": false}, "axis": null},
            "x2": {"field": "x1"},
            "y": {"field": "y0", "type": "quantitative", "scale": {"domain": [0, 11750], "nice": false, "zero": false},
                  "axis": {"orient": "left", "values": [0, 5000, 10000], "format": "d", "tickSize": -9, "labelPadding": 16, "title": "SO₂ emissions (t/day)", "titleX": -77, "titleY": 100, "titleAngle": -90, "titleBaseline": "middle", "titleAlign": "center"}},
            "y2": {"field": "y1"}
          }
        },
        {
          "data": {"values": [{"x0": 2006.1, "x1": 2014, "y0": 8806, "y1": 11394}]},
          "mark": {"type": "rect", "color": "white"},
          "encoding": {"x": {"field": "x0", "type": "quantitative"}, "x2": {"field": "x1"}, "y": {"field": "y0", "type": "quantitative"}, "y2": {"field": "y1"}}
        },
        {
          "data": {"values": [{"x0": 2008.1, "x1": 2010, "y0": 2865, "y1": 8588}, {"x0": 2010, "x1": 2014, "y0": 1688, "y1": 6235}]},
          "mark": {"type": "rect", "color": "#f6c9c9"},
          "encoding": {"x": {"field": "x0", "type": "quantitative"}, "x2": {"field": "x1"}, "y": {"field": "y0", "type": "quantitative"}, "y2": {"field": "y1"}}
        },
        {
          "data": {"values": [{"x0": 2005, "x1": 2008, "v": 350}, {"x0": 2008.1, "x1": 2010, "v": 5647}, {"x0": 2010, "x1": 2014, "v": 3941}]},
          "mark": {"type": "rule", "color": "#ff0000", "strokeWidth": 6},
          "encoding": {"x": {"field": "x0", "type": "quantitative"}, "x2": {"field": "x1"}, "y": {"field": "v", "type": "quantitative"}}
        },
        {
          "data": {"values": [{"t": 2009.2, "v": 7059, "s": "‘08–‘09"}, {"t": 2013.55, "v": 2865, "s": "‘10–‘13"}, {"t": 2008.27, "v": 1176, "s": "‘05–‘07"}]},
          "mark": {"type": "text", "align": "center", "baseline": "middle", "fontSize": 19, "color": "#ff1a1a"},
          "encoding": {"x": {"field": "t", "type": "quantitative"}, "y": {"field": "v", "type": "quantitative"}, "text": {"field": "s"}}
        },
        {
          "data": {"values": [{"t": 2007.73, "v": 9376, "s": "b"}]},
          "mark": {"type": "text", "align": "center", "baseline": "alphabetic", "fontSize": 36, "fontWeight": "bold", "color": "black"},
          "encoding": {"x": {"field": "t", "type": "quantitative"}, "y": {"field": "v", "type": "quantitative"}, "text": {"field": "s"}}
        },
        {
          "data": {"values": [{"t": 2011.0, "v": 9982, "s": "Halema‘uma‘u\u00a0\u00a0SO₂"}]},
          "mark": {"type": "text", "align": "left", "baseline": "alphabetic", "fontSize": 26.5, "fontWeight": "bold", "color": "black"},
          "encoding": {"x": {"field": "t", "type": "quantitative"}, "y": {"field": "v", "type": "quantitative"}, "text": {"field": "s"}}
        },
        {
          "data": {"values": [
            {"t": 2006.2, "y0": 0, "y1": 294}, {"t": 2014.5, "y0": 0, "y1": 294}, {"t": 2015.5, "y0": 0, "y1": 294}, {"t": 2016.5, "y0": 0, "y1": 294}, {"t": 2017.5, "y0": 0, "y1": 294}, {"t": 2018.33, "y0": 0, "y1": 294},
            {"t": 2015, "y0": 0, "y1": 529}, {"t": 2016, "y0": 0, "y1": 529}, {"t": 2017, "y0": 0, "y1": 529}, {"t": 2018, "y0": 0, "y1": 529},
            {"t": 2006.2, "y0": 11456, "y1": 11750}, {"t": 2014.5, "y0": 11456, "y1": 11750}, {"t": 2015.5, "y0": 11456, "y1": 11750}, {"t": 2016.5, "y0": 11456, "y1": 11750}, {"t": 2017.5, "y0": 11456, "y1": 11750}, {"t": 2018.33, "y0": 11456, "y1": 11750},
            {"t": 2015, "y0": 11221, "y1": 11750}, {"t": 2016, "y0": 11221, "y1": 11750}, {"t": 2017, "y0": 11221, "y1": 11750}, {"t": 2018, "y0": 11221, "y1": 11750}
          ]},
          "mark": {"type": "rule", "color": "#262626", "strokeWidth": 1.2},
          "encoding": {"x": {"field": "t", "type": "quantitative"}, "y": {"field": "y0", "type": "quantitative"}, "y2": {"field": "y1"}}
        },
        {
          "data": {"values": [{"x0": 2018.3775, "x1": 2018.43, "v": 5000}, {"x0": 2018.3775, "x1": 2018.43, "v": 10000}]},
          "mark": {"type": "rule", "color": "#262626", "strokeWidth": 1.2},
          "encoding": {"x": {"field": "x0", "type": "quantitative"}, "x2": {"field": "x1"}, "y": {"field": "v", "type": "quantitative"}}
        },
        {
          "data": {"name": "so2b"},
          "mark": {"type": "point", "shape": "square", "size": 196, "filled": false, "color": "#ff0000", "strokeWidth": 1.2, "opacity": 0.85},
          "encoding": {"x": {"field": "t", "type": "quantitative"}, "y": {"field": "v", "type": "quantitative"}}
        },
        {
          "data": {"values": [{"t": 2018.329, "y0": 0, "y1": 11750}]},
          "mark": {"type": "rule", "color": "#262626", "strokeWidth": 1.2, "strokeDash": [9, 6]},
          "encoding": {"x": {"field": "t", "type": "quantitative"}, "y": {"field": "y0", "type": "quantitative"}, "y2": {"field": "y1"}}
        },
        {
          "data": {"values": [{"x0": 2013.45, "x1": 2014.035, "y0": -470, "y1": 588}]},
          "mark": {"type": "rule", "color": "black", "strokeWidth": 3},
          "encoding": {"x": {"field": "x0", "type": "quantitative"}, "x2": {"field": "x1"}, "y": {"field": "y0", "type": "quantitative"}, "y2": {"field": "y1"}}
        }
      ]
    },
    {
      "width": 858,
      "height": 200,
      "layer": [
        {
          "data": {"values": [{"x0": 2005, "x1": 2014, "y0": 0.38, "y1": 0.46}]},
          "mark": {"type": "rect", "color": "#f0f0f0"},
          "encoding": {
            "x": {"field": "x0", "type": "quantitative", "scale": {"domain": [2005, 2014, 2018.43], "range": [0, 99, 858], "nice": false, "zero": false}, "axis": null},
            "x2": {"field": "x1"},
            "y": {"field": "y0", "type": "quantitative", "scale": {"domain": [0.38, 0.46], "nice": false, "zero": false},
                  "axis": {"orient": "left", "values": [0.38, 0.4, 0.42, 0.44, 0.46], "format": "~g", "tickSize": -9, "labelPadding": 16, "title": "K₂O (wt%)", "titleX": -77, "titleY": 100, "titleAngle": -90, "titleBaseline": "middle", "titleAlign": "center"}},
            "y2": {"field": "y1"}
          }
        },
        {
          "data": {"values": [{"x0": 2006.36, "x1": 2014, "y0": 0.4386, "y1": 0.4569}, {"x0": 2007.64, "x1": 2013.82, "y0": 0.4169, "y1": 0.4270}, {"x0": 2005.36, "x1": 2011.82, "y0": 0.3828, "y1": 0.3912}]},
          "mark": {"type": "rect", "color": "white"},
          "encoding": {"x": {"field": "x0", "type": "quantitative"}, "x2": {"field": "x1"}, "y": {"field": "y0", "type": "quantitative"}, "y2": {"field": "y1"}}
        },
        {
          "data": {"values": [{"x0": 2005, "x1": 2010, "y0": 0.3928, "y1": 0.4029, "period": "2005–2009"}, {"x0": 2010, "x1": 2013, "y0": 0.4018, "y1": 0.4157, "period": "2010–2013"}]},
          "mark": {"type": "rect"},
          "encoding": {"x": {"field": "x0", "type": "quantitative"}, "x2": {"field": "x1"}, "y": {"field": "y0", "type": "quantitative"}, "y2": {"field": "y1"},
                       "color": {"field": "period", "type": "nominal", "scale": {"domain": ["2005–2009", "2010–2013"], "range": ["#cbcbcb", "#bdbdbd"]}, "legend": null}}
        },
        {
          "data": {"values": [{"x0": 2005, "x1": 2010, "v": 0.3994}, {"x0": 2010, "x1": 2013, "v": 0.4088}]},
          "mark": {"type": "rule", "color": "black", "strokeWidth": 6.5},
          "encoding": {"x": {"field": "x0", "type": "quantitative"}, "x2": {"field": "x1"}, "y": {"field": "v", "type": "quantitative"}}
        },
        {
          "data": {"values": [{"t": 2010.73, "v": 0.4219, "s": "‘10–‘13"}, {"t": 2008.59, "v": 0.3870, "s": "‘05–‘09"}]},
          "mark": {"type": "text", "align": "center", "baseline": "middle", "fontSize": 19, "color": "black"},
          "encoding": {"x": {"field": "t", "type": "quantitative"}, "y": {"field": "v", "type": "quantitative"}, "text": {"field": "s"}}
        },
        {
          "data": {"values": [{"t": 2007.73, "v": 0.4429, "s": "c"}]},
          "mark": {"type": "text", "align": "center", "baseline": "alphabetic", "fontSize": 36, "fontWeight": "bold", "color": "black"},
          "encoding": {"x": {"field": "t", "type": "quantitative"}, "y": {"field": "v", "type": "quantitative"}, "text": {"field": "s"}}
        },
        {
          "data": {"values": [{"t": 2011.0, "v": 0.4454, "s": "Pu‘u‘ō‘ō\u00a0\u00a0whole-rock"}]},
          "mark": {"type": "text", "align": "left", "baseline": "alphabetic", "fontSize": 25, "fontWeight": "bold", "color": "black"},
          "encoding": {"x": {"field": "t", "type": "quantitative"}, "y": {"field": "v", "type": "quantitative"}, "text": {"field": "s"}}
        },
        {
          "data": {"values": [
            {"t": 2006.2, "y0": 0.38, "y1": 0.382}, {"t": 2014.5, "y0": 0.38, "y1": 0.382}, {"t": 2015.5, "y0": 0.38, "y1": 0.382}, {"t": 2016.5, "y0": 0.38, "y1": 0.382}, {"t": 2017.5, "y0": 0.38, "y1": 0.382}, {"t": 2018.33, "y0": 0.38, "y1": 0.382},
            {"t": 2015, "y0": 0.38, "y1": 0.3836}, {"t": 2016, "y0": 0.38, "y1": 0.3836}, {"t": 2017, "y0": 0.38, "y1": 0.3836}, {"t": 2018, "y0": 0.38, "y1": 0.3836},
            {"t": 2006.2, "y0": 0.458, "y1": 0.46}, {"t": 2014.5, "y0": 0.458, "y1": 0.46}, {"t": 2015.5, "y0": 0.458, "y1": 0.46}, {"t": 2016.5, "y0": 0.458, "y1": 0.46}, {"t": 2017.5, "y0": 0.458, "y1": 0.46}, {"t": 2018.33, "y0": 0.458, "y1": 0.46},
            {"t": 2015, "y0": 0.4564, "y1": 0.46}, {"t": 2016, "y0": 0.4564, "y1": 0.46}, {"t": 2017, "y0": 0.4564, "y1": 0.46}, {"t": 2018, "y0": 0.4564, "y1": 0.46}
          ]},
          "mark": {"type": "rule", "color": "#262626", "strokeWidth": 1.2},
          "encoding": {"x": {"field": "t", "type": "quantitative"}, "y": {"field": "y0", "type": "quantitative"}, "y2": {"field": "y1"}}
        },
        {
          "data": {"values": [{"x0": 2018.3775, "x1": 2018.43, "v": 0.4}, {"x0": 2018.3775, "x1": 2018.43, "v": 0.42}, {"x0": 2018.3775, "x1": 2018.43, "v": 0.44}]},
          "mark": {"type": "rule", "color": "#262626", "strokeWidth": 1.2},
          "encoding": {"x": {"field": "x0", "type": "quantitative"}, "x2": {"field": "x1"}, "y": {"field": "v", "type": "quantitative"}}
        },
        {
          "data": {"name": "k2o"},
          "mark": {"type": "point", "shape": "triangle-up", "size": 289, "filled": false, "color": "black", "strokeWidth": 2, "opacity": 1},
          "encoding": {"x": {"field": "t", "type": "quantitative"}, "y": {"field": "v", "type": "quantitative"}}
        },
        {
          "data": {"values": [{"t": 2017.55, "y0": 0.4094, "y1": 0.4221}]},
          "mark": {"type": "rule", "color": "#a6a6a6", "strokeWidth": 5},
          "encoding": {"x": {"field": "t", "type": "quantitative"}, "y": {"field": "y0", "type": "quantitative"}, "y2": {"field": "y1"}}
        },
        {
          "data": {"values": [{"t": 2017.55, "v": 0.4221}]},
          "mark": {"type": "point", "shape": "triangle-up", "size": 289, "filled": true, "color": "#a6a6a6", "opacity": 1},
          "encoding": {"x": {"field": "t", "type": "quantitative"}, "y": {"field": "v", "type": "quantitative"}}
        },
        {
          "data": {"values": [{"t": 2018.329, "y0": 0.38, "y1": 0.46}]},
          "mark": {"type": "rule", "color": "#262626", "strokeWidth": 1.2, "strokeDash": [9, 6]},
          "encoding": {"x": {"field": "t", "type": "quantitative"}, "y": {"field": "y0", "type": "quantitative"}, "y2": {"field": "y1"}}
        },
        {
          "data": {"values": [{"x0": 2013.45, "x1": 2014.035, "y0": 0.3768, "y1": 0.384}]},
          "mark": {"type": "rule", "color": "black", "strokeWidth": 3},
          "encoding": {"x": {"field": "x0", "type": "quantitative"}, "x2": {"field": "x1"}, "y": {"field": "y0", "type": "quantitative"}, "y2": {"field": "y1"}}
        }
      ]
    },
    {
      "width": 858,
      "height": 200,
      "layer": [
        {
          "data": {"values": [{"x0": 2005, "x1": 2014, "y0": 0.1643, "y1": 0.1851}]},
          "mark": {"type": "rect", "color": "#f0f0f0"},
          "encoding": {
            "x": {"field": "x0", "type": "quantitative", "scale": {"domain": [2005, 2014, 2018.43], "range": [0, 99, 858], "nice": false, "zero": false},
                  "axis": {"orient": "bottom", "values": [2009.4, 2014.5, 2015.5, 2016.5, 2017.5, 2018.21], "ticks": false, "labelPadding": 14, "labelExpr": "datum.value < 2014 ? '2005 – 2013' : '' + floor(datum.value)", "title": "Date", "titleX": 416, "titleY": 49.5, "titleBaseline": "alphabetic", "titleAlign": "center"}},
            "x2": {"field": "x1"},
            "y": {"field": "y0", "type": "quantitative", "scale": {"domain": [0.1643, 0.1851], "nice": false, "zero": false},
                  "axis": {"orient": "left", "values": [0.165, 0.17, 0.175, 0.18, 0.185], "format": "~g", "tickSize": -9, "labelPadding": 16, "title": "K₂O / TiO₂", "titleX": -77, "titleY": 100, "titleAngle": -90, "titleBaseline": "middle", "titleAlign": "center"}},
            "y2": {"field": "y1"}
          }
        },
        {
          "data": {"values": [{"x0": 2005, "x1": 2010, "y0": 0.1648, "y1": 0.1697, "period": "2005–2009"}, {"x0": 2010, "x1": 2013, "y0": 0.1674, "y1": 0.1722, "period": "2010–2013"}]},
          "mark": {"type": "rect"},
          "encoding": {"x": {"field": "x0", "type": "quantitative"}, "x2": {"field": "x1"}, "y": {"field": "y0", "type": "quantitative"}, "y2": {"field": "y1"},
                       "color": {"field": "period", "type": "nominal", "scale": {"domain": ["2005–2009", "2010–2013"], "range": ["#cbcbcb", "#bdbdbd"]}, "legend": null}}
        },
        {
          "data": {"values": [{"x0": 2006.64, "x1": 2014, "y0": 0.1788, "y1": 0.1840}, {"x0": 2007.73, "x1": 2013.64, "y0": 0.1725, "y1": 0.1757}]},
          "mark": {"type": "rect", "color": "white"},
          "encoding": {"x": {"field": "x0", "type": "quantitative"}, "x2": {"field": "x1"}, "y": {"field": "y0", "type": "quantitative"}, "y2": {"field": "y1"}}
        },
        {
          "data": {"values": [{"x0": 2005.91, "x1": 2012.09, "y0": 0.1643, "y1": 0.1667}]},
          "mark": {"type": "rect", "color": "white", "opacity": 0.6},
          "encoding": {"x": {"field": "x0", "type": "quantitative"}, "x2": {"field": "x1"}, "y": {"field": "y0", "type": "quantitative"}, "y2": {"field": "y1"}}
        },
        {
          "data": {"values": [{"x0": 2005, "x1": 2010, "v": 0.1672}, {"x0": 2010, "x1": 2013, "v": 0.1697}]},
          "mark": {"type": "rule", "color": "black", "strokeWidth": 6.5},
          "encoding": {"x": {"field": "x0", "type": "quantitative"}, "x2": {"field": "x1"}, "y": {"field": "v", "type": "quantitative"}}
        },
        {
          "data": {"values": [{"t": 2010.86, "v": 0.1741, "s": "‘10–‘13"}, {"t": 2009.0, "v": 0.16576, "s": "‘05–‘09"}]},
          "mark": {"type": "text", "align": "center", "baseline": "middle", "fontSize": 19, "color": "black"},
          "encoding": {"x": {"field": "t", "type": "quantitative"}, "y": {"field": "v", "type": "quantitative"}, "text": {"field": "s"}}
        },
        {
          "data": {"values": [{"t": 2007.73, "v": 0.1802, "s": "d"}]},
          "mark": {"type": "text", "align": "center", "baseline": "alphabetic", "fontSize": 36, "fontWeight": "bold", "color": "black"},
          "encoding": {"x": {"field": "t", "type": "quantitative"}, "y": {"field": "v", "type": "quantitative"}, "text": {"field": "s"}}
        },
        {
          "data": {"values": [{"t": 2011.0, "v": 0.1811, "s": "Pu‘u‘ō‘ō\u00a0\u00a0whole-rock"}]},
          "mark": {"type": "text", "align": "left", "baseline": "alphabetic", "fontSize": 25, "fontWeight": "bold", "color": "black"},
          "encoding": {"x": {"field": "t", "type": "quantitative"}, "y": {"field": "v", "type": "quantitative"}, "text": {"field": "s"}}
        },
        {
          "data": {"values": [
            {"t": 2006.2, "y0": 0.1643, "y1": 0.16482}, {"t": 2014.5, "y0": 0.1643, "y1": 0.16482}, {"t": 2015.5, "y0": 0.1643, "y1": 0.16482}, {"t": 2016.5, "y0": 0.1643, "y1": 0.16482}, {"t": 2017.5, "y0": 0.1643, "y1": 0.16482}, {"t": 2018.33, "y0": 0.1643, "y1": 0.16482},
            {"t": 2015, "y0": 0.1643, "y1": 0.16524}, {"t": 2016, "y0": 0.1643, "y1": 0.16524}, {"t": 2017, "y0": 0.1643, "y1": 0.16524}, {"t": 2018, "y0": 0.1643, "y1": 0.16524},
            {"t": 2015, "y0": 0.16305, "y1": 0.1643}, {"t": 2016, "y0": 0.16305, "y1": 0.1643}, {"t": 2017, "y0": 0.16305, "y1": 0.1643}, {"t": 2018, "y0": 0.16305, "y1": 0.1643},
            {"t": 2006.2, "y0": 0.18458, "y1": 0.1851}, {"t": 2014.5, "y0": 0.18458, "y1": 0.1851}, {"t": 2015.5, "y0": 0.18458, "y1": 0.1851}, {"t": 2016.5, "y0": 0.18458, "y1": 0.1851}, {"t": 2017.5, "y0": 0.18458, "y1": 0.1851}, {"t": 2018.33, "y0": 0.18458, "y1": 0.1851},
            {"t": 2015, "y0": 0.18416, "y1": 0.1851}, {"t": 2016, "y0": 0.18416, "y1": 0.1851}, {"t": 2017, "y0": 0.18416, "y1": 0.1851}, {"t": 2018, "y0": 0.18416, "y1": 0.1851}
          ]},
          "mark": {"type": "rule", "color": "#262626", "strokeWidth": 1.2},
          "encoding": {"x": {"field": "t", "type": "quantitative"}, "y": {"field": "y0", "type": "quantitative"}, "y2": {"field": "y1"}}
        },
        {
          "data": {"values": [{"x0": 2018.3775, "x1": 2018.43, "v": 0.17}, {"x0": 2018.3775, "x1": 2018.43, "v": 0.175}, {"x0": 2018.3775, "x1": 2018.43, "v": 0.18}]},
          "mark": {"type": "rule", "color": "#262626", "strokeWidth": 1.2},
          "encoding": {"x": {"field": "x0", "type": "quantitative"}, "x2": {"field": "x1"}, "y": {"field": "v", "type": "quantitative"}}
        },
        {
          "data": {"name": "ratio"},
          "mark": {"type": "point", "shape": "triangle-up", "size": 289, "filled": false, "color": "black", "strokeWidth": 2, "opacity": 1},
          "encoding": {"x": {"field": "t", "type": "quantitative"}, "y": {"field": "v", "type": "quantitative"}}
        },
        {
          "data": {"values": [{"t": 2017.55, "y0": 0.1711, "y1": 0.1751}]},
          "mark": {"type": "rule", "color": "#a6a6a6", "strokeWidth": 5},
          "encoding": {"x": {"field": "t", "type": "quantitative"}, "y": {"field": "y0", "type": "quantitative"}, "y2": {"field": "y1"}}
        },
        {
          "data": {"values": [{"t": 2017.55, "v": 0.1751}]},
          "mark": {"type": "point", "shape": "triangle-up", "size": 289, "filled": true, "color": "#a6a6a6", "opacity": 1},
          "encoding": {"x": {"field": "t", "type": "quantitative"}, "y": {"field": "v", "type": "quantitative"}}
        },
        {
          "data": {"values": [{"x0": 2018.076, "x1": 2018.24, "v": 0.1726}]},
          "mark": {"type": "rule", "color": "black", "strokeWidth": 2.5},
          "encoding": {"x": {"field": "x0", "type": "quantitative"}, "x2": {"field": "x1"}, "y": {"field": "v", "type": "quantitative"}}
        },
        {
          "data": {"values": [{"t": 2018.257, "v": 0.1726}]},
          "mark": {"type": "point", "shape": "triangle-right", "size": 256, "filled": true, "color": "black", "opacity": 1},
          "encoding": {"x": {"field": "t", "type": "quantitative"}, "y": {"field": "v", "type": "quantitative"}}
        },
        {
          "data": {"values": [{"t": 2018.006, "v": 0.1698, "s": "Pu‘u‘ō‘ō"}, {"t": 2018.006, "v": 0.1671, "s": "collapse"}]},
          "mark": {"type": "text", "align": "center", "baseline": "middle", "fontSize": 20, "fontStyle": "italic", "color": "black"},
          "encoding": {"x": {"field": "t", "type": "quantitative"}, "y": {"field": "v", "type": "quantitative"}, "text": {"field": "s"}}
        },
        {
          "data": {"values": [{"t": 2018.329, "y0": 0.1643, "y1": 0.1851}]},
          "mark": {"type": "rule", "color": "#262626", "strokeWidth": 1.2, "strokeDash": [9, 6]},
          "encoding": {"x": {"field": "t", "type": "quantitative"}, "y": {"field": "y0", "type": "quantitative"}, "y2": {"field": "y1"}}
        },
        {
          "data": {"values": [{"x0": 2013.45, "x1": 2014.035, "y0": 0.16347, "y1": 0.16534}]},
          "mark": {"type": "rule", "color": "black", "strokeWidth": 3},
          "encoding": {"x": {"field": "x0", "type": "quantitative"}, "x2": {"field": "x1"}, "y": {"field": "y0", "type": "quantitative"}, "y2": {"field": "y1"}}
        }
      ]
    }
  ]
}
